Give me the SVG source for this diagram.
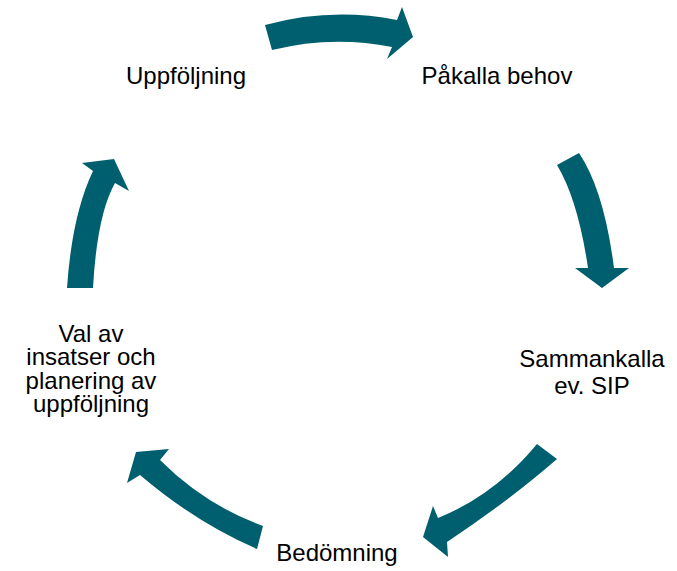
<svg xmlns="http://www.w3.org/2000/svg" width="677" height="571" viewBox="0 0 677 571">
<style>
.arr{fill:#005F6E;stroke:none}
.lbl{font-family:"Liberation Sans",Arial,sans-serif;font-size:24px;fill:#000;text-anchor:middle}
</style>
<rect width="677" height="571" fill="#fff"/>
<g id="connectors">
<path class="arr" d="M265,25 Q331,7 397,20 L402,7 L413,37 L387,59 L392,47 Q332,35 272,50 Z"/>
<path class="arr" d="M557,165 L579,153 Q604,190 614,268 L629,268 L602,288 L575,268 L588,268 Q578,200 557,165 Z"/>
<path class="arr" d="M537,444 L557,459 Q510,500 447,542 L448,557 L423,537 L433,506 L438,518 Q495,495 537,444 Z"/>
<path class="arr" d="M263,526 L257,549 Q195,522 140,475 L127,483 L136,452 L169,449 L160,460 Q205,505 263,526 Z"/>
<path class="arr" d="M67,288 L93,288 Q97,215 115,183 L129,191 L114,159 L82,163 L93,171 Q72,215 67,288 Z"/>
</g>
<g id="node-pakalla"><text class="lbl" x="497" y="84">Påkalla behov</text></g>
<g id="node-sammankalla"><text class="lbl" x="592" y="367">Sammankalla</text><text class="lbl" x="592" y="394">ev. SIP</text></g>
<g id="node-bedomning"><text class="lbl" x="337" y="561">Bedömning</text></g>
<g id="node-val"><text class="lbl" x="91" y="342">Val av</text><text class="lbl" x="91" y="365">insatser och</text><text class="lbl" x="91" y="389">planering av</text><text class="lbl" x="91" y="412">uppföljning</text></g>
<g id="node-uppfoljning"><text class="lbl" x="186" y="84">Uppföljning</text></g>
</svg>
